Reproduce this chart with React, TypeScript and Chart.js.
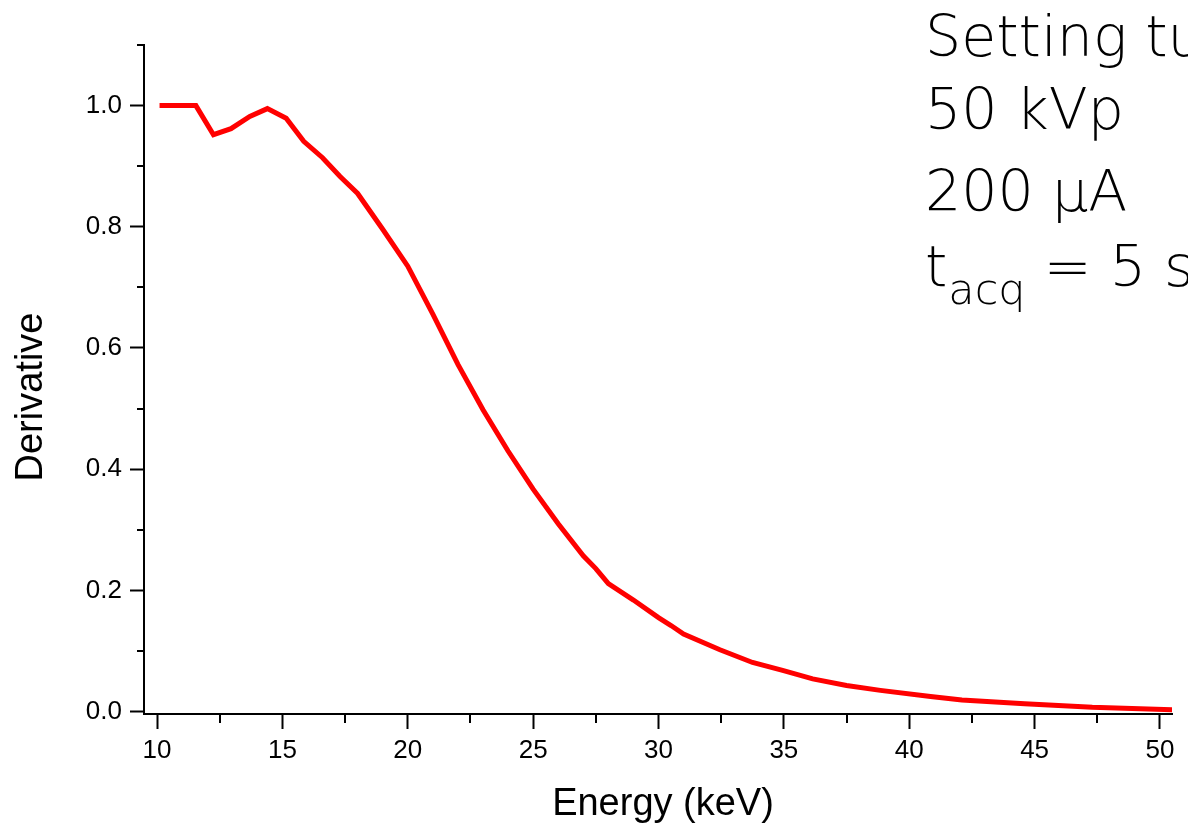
import React, { useEffect, useRef } from "react";
import { Chart, registerables } from "chart.js";

Chart.register(...registerables);

// Detector derivative response versus photon energy
const energyKeV = [
  10.1, 11.55, 12.25, 12.95, 13.7, 14.4, 15.15, 15.85, 16.6, 17.3, 18.0, 19.0,
  20.0, 21.0, 22.0, 23.0, 24.0, 25.0, 26.0, 27.0, 27.5, 28.0, 29.0, 30.0,
  30.5, 31.0, 32.45, 33.75, 34.95, 36.15, 37.5, 38.85, 40.85, 42.1, 44.6,
  47.3, 50.5,
];
const derivative = [
  1.0, 1.0, 0.952, 0.962, 0.982, 0.995, 0.979, 0.941, 0.914, 0.883, 0.855,
  0.796, 0.735, 0.656, 0.573, 0.498, 0.43, 0.367, 0.31, 0.257, 0.236, 0.211,
  0.184, 0.155, 0.142, 0.128, 0.102, 0.081, 0.068, 0.054, 0.043, 0.035,
  0.025, 0.019, 0.013, 0.007, 0.003,
];

const xMin = 9.48;
const xMax = 50.48;
const yMin = -0.004;
const yMax = 1.1;
const xMajorStep = 5;
const yMajorStep = 0.2;
const xMinorTicks = [12.5, 17.5, 22.5, 27.5, 32.5, 37.5, 42.5, 47.5];
const yMinorTicks = [0.1, 0.3, 0.5, 0.7, 0.9, 1.1];

const xTitle = "Energy (keV)";
const yTitle = "Derivative";
const settingLines = ["Setting tube", "50 kVp", "200 μA"];
const acqLabel = { main: "t", sub: "acq", rest: " = 5 s" };

const ARIAL = '"Liberation Sans", Arial, sans-serif';
const NOTE_FONT = '"DejaVu Sans", sans-serif';

const decorations = {
  id: "decorations",
  afterDraw(chart: any) {
    const { ctx, chartArea, scales } = chart;
    const x = scales.x;
    const y = scales.y;
    ctx.save();
    ctx.strokeStyle = "#000";
    ctx.lineWidth = 2;
    // minor ticks
    for (const v of yMinorTicks) {
      const py = Math.round(y.getPixelForValue(v));
      ctx.beginPath();
      ctx.moveTo(chartArea.left - 7, py);
      ctx.lineTo(chartArea.left, py);
      ctx.stroke();
    }
    for (const v of xMinorTicks) {
      const px = Math.round(x.getPixelForValue(v));
      ctx.beginPath();
      ctx.moveTo(px, chartArea.bottom);
      ctx.lineTo(px, chartArea.bottom + 9);
      ctx.stroke();
    }

    // axis titles
    ctx.fillStyle = "#000";
    ctx.font = `38px ${ARIAL}`;
    ctx.textAlign = "center";
    ctx.textBaseline = "alphabetic";
    ctx.fillText(xTitle, 663, 815);

    ctx.save();
    ctx.translate(42, 397);
    ctx.rotate(-Math.PI / 2);
    ctx.fillText(yTitle, 0, 0);
    ctx.restore();

    // acquisition settings note
    ctx.textAlign = "left";
    ctx.font = `200 57px ${NOTE_FONT}`;
    const baselines = [56, 129, 211];
    settingLines.forEach((t, i) => ctx.fillText(t, 925, baselines[i]));
    ctx.fillText(acqLabel.main, 925, 286);
    const tW = ctx.measureText(acqLabel.main).width;
    ctx.font = `200 43px ${NOTE_FONT}`;
    ctx.fillText(acqLabel.sub, 925 + tW + 1, 304);
    const subW = ctx.measureText(acqLabel.sub).width;
    ctx.font = `200 57px ${NOTE_FONT}`;
    ctx.fillText(acqLabel.rest, 925 + tW + 1 + subW, 286);
    ctx.restore();
  },
};

export default function App() {
  const canvasRef = useRef<HTMLCanvasElement | null>(null);

  useEffect(() => {
    const canvas = canvasRef.current;
    if (!canvas) return;
    const points = energyKeV.map((e, i) => ({ x: e, y: derivative[i] }));
    const chart = new Chart(canvas, {
      type: "line",
      data: {
        datasets: [
          {
            data: points,
            borderColor: "#ff0000",
            borderWidth: 5,
            pointRadius: 0,
            tension: 0,
            fill: false,
          },
        ],
      },
      options: {
        animation: false,
        responsive: false,
        events: [],
        layout: { padding: { left: 0, top: 45, right: 16, bottom: 0 } },
        plugins: { legend: { display: false }, tooltip: { enabled: false } },
        scales: {
          x: {
            type: "linear",
            min: xMin,
            max: xMax,
            afterFit: (s: any) => {
              s.height = 111;
            },
            border: { display: true, color: "#000", width: 2 },
            grid: {
              drawOnChartArea: false,
              drawTicks: true,
              tickLength: 15,
              tickWidth: 2,
              tickColor: "#000",
            },
            ticks: {
              stepSize: xMajorStep,
              includeBounds: false,
              color: "#000",
              padding: 6,
              maxRotation: 0,
              font: { family: ARIAL, size: 26 },
              callback: (v: any) => String(v),
            },
          },
          y: {
            type: "linear",
            min: yMin,
            max: yMax,
            afterFit: (s: any) => {
              s.width = 144;
            },
            border: { display: true, color: "#000", width: 2 },
            grid: {
              drawOnChartArea: false,
              drawTicks: true,
              tickLength: 14,
              tickWidth: 2,
              tickColor: "#000",
            },
            ticks: {
              stepSize: yMajorStep,
              includeBounds: false,
              color: "#000",
              padding: 8,
              font: { family: ARIAL, size: 26 },
              callback: (v: any) => Number(v).toFixed(1),
            },
          },
        },
      },
      plugins: [decorations],
    });
    return () => chart.destroy();
  }, []);

  return (
    <div
      style={{
        position: "fixed",
        left: 0,
        top: 0,
        width: 1188,
        height: 825,
        overflow: "hidden",
        background: "#fff",
      }}
    >
      <canvas ref={canvasRef} width={1188} height={825} style={{ display: "block" }} />
    </div>
  );
}
